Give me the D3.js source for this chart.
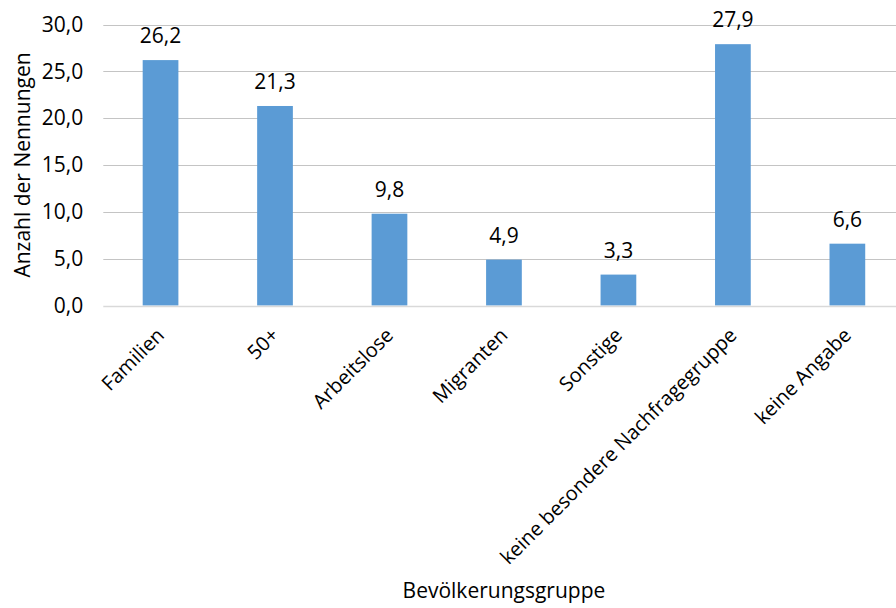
<!DOCTYPE html>
<html>
<head>
<meta charset="utf-8">
<script src="https://cdn.jsdelivr.net/npm/d3@7"></script>
<style>
  html, body { margin: 0; padding: 0; background: #fff; }
  svg { display: block; }
  text { font-family: "Open Sans", sans-serif; fill: #000; }
</style>
</head>
<body>
<svg id="chart" width="896" height="608"></svg>
<script>
const categories = ["Familien", "50+", "Arbeitslose", "Migranten", "Sonstige", "keine besondere Nachfragegruppe", "keine Angabe"];
const values = [26.2, 21.3, 9.8, 4.9, 3.3, 27.9, 6.6];
const yTicks = [0, 5, 10, 15, 20, 25, 30];
const yTitle = "Anzahl der Nennungen";
const xTitle = "Bevölkerungsgruppe";

const svg = d3.select("#chart");
const plotLeft = 103.3, plotRight = 904.6, plotTop = 24.5, plotBottom = 305.5;
const fontSize = 21;
const catFontSize = 20;

const fmt = v => d3.format(".1f")(v).replace(".", ",");

const x = d3.scaleBand()
  .domain(categories)
  .range([plotLeft, plotRight])
  .paddingInner(0.688)
  .paddingOuter(0.344);

const y = d3.scaleLinear().domain([0, 30]).range([plotBottom, plotTop]);

// horizontal gridlines
svg.append("g")
  .selectAll("line")
  .data(yTicks.filter(t => t > 0))
  .join("line")
  .attr("x1", plotLeft).attr("x2", plotRight)
  .attr("y1", d => Math.round(y(d)) + 0.5).attr("y2", d => Math.round(y(d)) + 0.5)
  .attr("stroke", "#c4c4c4").attr("stroke-width", 1);

// y tick labels
const yAxis = d3.axisLeft(y).tickValues(yTicks).tickFormat(fmt).tickSize(0).tickPadding(20);
const yg = svg.append("g").attr("transform", `translate(${plotLeft},0)`).call(yAxis);
yg.select(".domain").remove();
yg.selectAll("text").attr("font-size", fontSize).attr("font-family", null).attr("fill", "#000");

// bars
svg.append("g")
  .selectAll("rect")
  .data(values)
  .join("rect")
  .attr("x", (d, i) => x(categories[i]))
  .attr("width", x.bandwidth())
  .attr("y", d => y(d))
  .attr("height", d => y(0) - y(d))
  .attr("fill", "#5b9bd5");

// baseline
svg.append("line")
  .attr("x1", plotLeft).attr("x2", plotRight)
  .attr("y1", Math.round(y(0)) + 0.5).attr("y2", Math.round(y(0)) + 0.5)
  .attr("stroke", "#d9d9d9").attr("stroke-width", 1.5);

// value labels
svg.append("g")
  .selectAll("text")
  .data(values)
  .join("text")
  .attr("x", (d, i) => x(categories[i]) + x.bandwidth() / 2)
  .attr("y", d => y(d) - 17)
  .attr("text-anchor", "middle")
  .attr("font-size", fontSize)
  .text(d => fmt(d));

// category labels, rotated
const xAxis = d3.axisBottom(x).tickSize(0).tickPadding(0);
const xg = svg.append("g").attr("transform", `translate(0,${plotBottom})`).call(xAxis);
xg.select(".domain").remove();
xg.selectAll("text")
  .attr("font-size", catFontSize)
  .attr("font-family", null)
  .attr("fill", "#000")
  .attr("text-anchor", "end")
  .attr("dy", null)
  .attr("y", 0)
  .attr("transform", "translate(5,31) rotate(-45)");

// axis titles
svg.append("text")
  .attr("transform", `translate(30,${(plotTop + plotBottom) / 2}) rotate(-90)`)
  .attr("text-anchor", "middle")
  .attr("font-size", fontSize)
  .text(yTitle);

svg.append("text")
  .attr("x", (plotLeft + plotRight) / 2)
  .attr("y", 598)
  .attr("text-anchor", "middle")
  .attr("font-size", fontSize)
  .text(xTitle);
</script>
</body>
</html>
